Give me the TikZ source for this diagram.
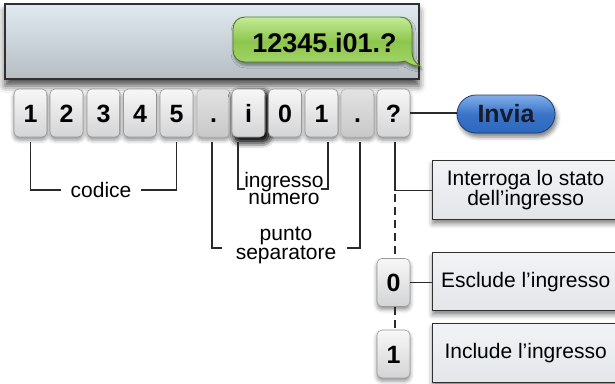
\documentclass[tikz,border=0pt]{standalone}
\usepackage{fontspec}
\setmainfont{Liberation Sans}
\usetikzlibrary{shadows.blur}
\definecolor{scrtop}{HTML}{E0E9EF}
\definecolor{scrbot}{HTML}{B6BEC4}
\definecolor{edge}{HTML}{303030}
\definecolor{keytop}{HTML}{F7F7F7}
\definecolor{keybot}{HTML}{D3D4D5}
\definecolor{keyedge}{HTML}{9A9A9A}
\definecolor{dottop}{HTML}{E2E2E2}
\definecolor{dotbot}{HTML}{C8C8C8}
\definecolor{bubtop}{HTML}{C4EA98}
\definecolor{bubmid}{HTML}{8DC64C}
\definecolor{bubbot}{HTML}{A5D56C}
\definecolor{bubedge}{HTML}{4E7F22}
\definecolor{invtop}{HTML}{82AEEA}
\definecolor{invmid}{HTML}{3B74C9}
\definecolor{invbot}{HTML}{2C68BD}
\definecolor{invedge}{HTML}{1E3F72}
\definecolor{invtext}{HTML}{161C2C}
\definecolor{boxtop}{HTML}{F1F3F5}
\definecolor{boxbot}{HTML}{E3E6E9}
\definecolor{linecol}{HTML}{2A2A2A}
\tikzset{
  keybox/.style={draw=keyedge, line width=0.6pt, rounded corners=5pt,
    minimum width=33pt, minimum height=48pt, inner sep=0pt,
    text height=18pt, text depth=0pt,
    top color=keytop, bottom color=keybot,
    font=\fontsize{25}{25}\selectfont\bfseries,
    blur shadow={shadow xshift=0pt, shadow yshift=-3pt, shadow blur radius=4pt, shadow opacity=45}},
  dotkey/.style={keybox, draw=keyedge!70, top color=dottop, bottom color=dotbot},
  hotkey/.style={keybox, blur shadow={shadow xshift=3pt, shadow yshift=-4pt, shadow blur radius=7pt, shadow opacity=90}},
  infobox/.style={draw=edge, line width=1.3pt, top color=boxtop, bottom color=boxbot,
    minimum width=186pt, inner sep=0pt, align=center, anchor=north west,
    font=\fontsize{21}{20}\selectfont,
    blur shadow={shadow xshift=0pt, shadow yshift=-4pt, shadow blur radius=5pt, shadow opacity=50}},
  lbl/.style={font=\fontsize{21}{17}\selectfont, align=center, inner sep=0pt},
  conn/.style={draw=linecol, line width=1.3pt},
  dashconn/.style={conn, dash pattern=on 8pt off 5pt},
}
\begin{document}
\begin{tikzpicture}[x=1pt,y=-1pt]
\useasboundingbox (0,0) rectangle (615,383);
% screen
\node[draw=edge, line width=1.6pt, top color=scrtop, bottom color=scrbot,
  minimum width=414pt, minimum height=75pt, anchor=north west, inner sep=0pt,
  blur shadow={shadow xshift=0pt, shadow yshift=-7pt, shadow blur radius=7pt, shadow opacity=70}] (screen) at (4,3) {};
% bubble
\shade[draw=bubedge, line width=0.9pt, top color=bubtop, bottom color=bubbot, middle color=bubmid,
  blur shadow={shadow xshift=1pt, shadow yshift=-3pt, shadow blur radius=3pt, shadow opacity=45}]
  (233,40) -- (233,29) .. controls (233,22) and (238,17) .. (245,17)
  -- (400,17) .. controls (407,17) and (412,22) .. (412,29)
  -- (412,52) .. controls (412,58) and (415,63) .. (420,66)
  .. controls (414,66) and (409,64) .. (405,61)
  .. controls (403,62) and (401,62) .. (398,62)
  -- (245,62) .. controls (238,62) and (233,57) .. (233,50) -- cycle;
\node[anchor=base, inner sep=0pt, font=\fontsize{27}{27}\selectfont\bfseries] (msg) at (324.5,52) {12345.i01.?};
% keys
\node[keybox] (k1) at (30.5,113) {1};
\node[keybox] (k2) at (66.5,113) {2};
\node[keybox] (k3) at (103.5,113) {3};
\node[keybox] (k4) at (140,113) {4};
\node[keybox] (k5) at (176.5,113) {5};
\node[dotkey] (k6) at (213.5,113) {.};
\node[hotkey] (k7) at (248.5,113) {i};
\node[keybox] (k8) at (285,113) {0};
\node[keybox] (k9) at (321.5,113) {1};
\node[dotkey] (k10) at (357.5,113) {.};
\node[keybox] (k11) at (393.5,113) {?};
% invia
\node[draw=invedge, line width=0.8pt, rounded corners=19pt, minimum width=98pt, minimum height=38pt,
  inner sep=0pt, top color=invtop, bottom color=invbot, middle color=invmid,
  text=invtext, font=\fontsize{25}{25}\selectfont\bfseries,
  blur shadow={shadow xshift=2pt, shadow yshift=-4pt, shadow blur radius=4pt, shadow opacity=50}] (invia) at (506,114) {Invia};
\draw[conn] (k11.east) -- (k11.east -| invia.west);
% labels
\node[lbl, inner xsep=9pt] (codice) at (101,190) {codice};
\draw[conn] ([yshift=-5pt]k1.south) |- (codice.west);
\draw[conn] ([yshift=-5pt]k5.south) |- (codice.east);
\node[lbl] (ingnum) at (284,188) {ingresso\\numero};
\coordinate (ingL) at (245,189);
\coordinate (ingR) at (321,189);
\draw[conn] ([xshift=-10.5pt,yshift=-5pt]k7.south) |- (ingL);
\draw[conn] ([xshift=6.5pt,yshift=-5pt]k9.south) |- (ingR);
\node[lbl] (punto) at (286,245.5) {punto\\separatore};
\coordinate (ptL) at (222,248);
\coordinate (ptR) at (347,248);
\draw[conn] ([xshift=-1.5pt,yshift=-5pt]k6.south) |- (ptL);
\draw[conn] ([xshift=2.5pt,yshift=-5pt]k10.south) |- (ptR);
% right side
\node[infobox, minimum height=59pt] (box1) at (432,160) {Interroga lo stato\\dell’ingresso};
\node[infobox, minimum height=58pt] (box2) at (432,252) {Esclude l’ingresso};
\node[infobox, minimum height=59pt] (box3) at (432,323) {Include l’ingresso};
\node[keybox] (k0) at (393.5,282.5) {0};
\node[keybox] (kb1) at (393.5,354) {1};
\coordinate (qturn) at ([xshift=1.5pt]k11.south |- box1.west);
\draw[conn] ([xshift=1.5pt,yshift=-5pt]k11.south) -- (qturn) -- (box1.west);
\draw[dashconn] ([yshift=-4pt]qturn) -- ([xshift=1.5pt]k0.north);
\draw[dashconn] ([xshift=1.5pt]k0.south) -- ([xshift=1.5pt]kb1.north);
\draw[conn] (k0.east) -- (k0.east -| box2.west);
\end{tikzpicture}
\end{document}
